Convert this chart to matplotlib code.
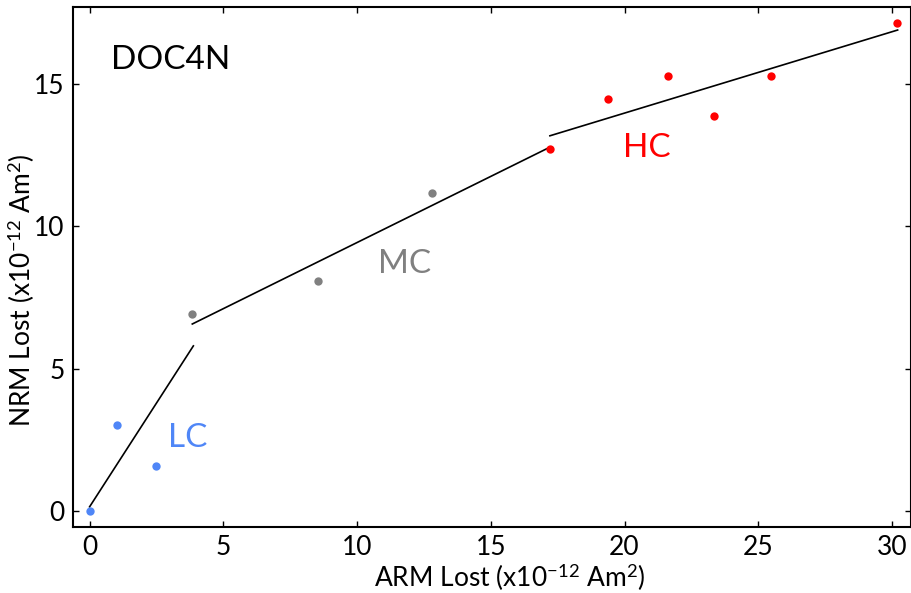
import matplotlib
matplotlib.use("Agg")
import matplotlib.pyplot as plt

plt.rcParams['font.family'] = ['Lato', 'DejaVu Sans']
plt.rcParams['mathtext.fontset'] = 'custom'
plt.rcParams['mathtext.rm'] = 'Lato'
plt.rcParams['mathtext.it'] = 'Lato:italic'
plt.rcParams['mathtext.bf'] = 'Lato:bold'

# Data
lc_x = [0.0, 1.03, 2.49]
lc_y = [0.0, 3.02, 1.56]
mc_x = [3.84, 8.54, 12.80]
mc_y = [6.93, 8.07, 11.17]
hc_x = [17.21, 19.40, 21.61, 23.35, 25.46, 30.20]
hc_y = [12.73, 14.48, 15.31, 13.88, 15.31, 17.16]

lc_fit_x = [0.0, 3.88]
lc_fit_y = [0.14, 5.80]
mc_fit_x = [3.84, 17.21]
mc_fit_y = [6.57, 12.79]
hc_fit_x = [17.21, 30.21]
hc_fit_y = [13.19, 16.91]

xticks = [0, 5, 10, 15, 20, 25, 30]
yticks = [0, 5, 10, 15]

blue = '#4f86f7'
gray = '#808080'
red = '#ff0000'

fig = plt.figure(figsize=(9.12, 5.93), dpi=100)
ax = fig.add_axes([73/912, 66/593, (911-73)/912, (527-7)/593])

for fx, fy in [(lc_fit_x, lc_fit_y), (mc_fit_x, mc_fit_y), (hc_fit_x, hc_fit_y)]:
    ax.plot(fx, fy, color='black', lw=1.2, zorder=2)

ax.plot(lc_x, lc_y, 'o', color=blue, ms=6, mec='none', zorder=3)
ax.plot(mc_x, mc_y, 'o', color=gray, ms=6, mec='none', zorder=3)
ax.plot(hc_x, hc_y, 'o', color=red, ms=6, mec='none', zorder=3)

ax.text(3.66, 2.55, 'LC', color=blue, fontsize=24, ha='center', va='center')
ax.text(11.76, 8.67, 'MC', color=gray, fontsize=24, ha='center', va='center')
ax.text(20.84, 12.75, 'HC', color=red, fontsize=24, ha='center', va='center')
ax.text(3.03, 15.85, 'DOC4N', color='black', fontsize=24, ha='center', va='center')

ax.set_xlim(-0.62, 30.71)
ax.set_ylim(-0.57, 17.72)
ax.set_xticks(xticks)
ax.set_yticks(yticks)
ax.tick_params(direction='in', length=4, width=1, top=True, right=True,
               labelsize=19, pad=6)
for s in ax.spines.values():
    s.set_linewidth(1.5)

ax.set_xlabel(r'ARM Lost (x10$^{-12}$ Am$^{2}$)', fontsize=19)
ax.set_ylabel(r'NRM Lost (x10$^{-12}$ Am$^{2}$)', fontsize=19)
ax.xaxis.set_label_coords(0.521, -0.068)
ax.yaxis.set_label_coords(-0.043, 0.456)

fig.savefig('out.png', dpi=100)
